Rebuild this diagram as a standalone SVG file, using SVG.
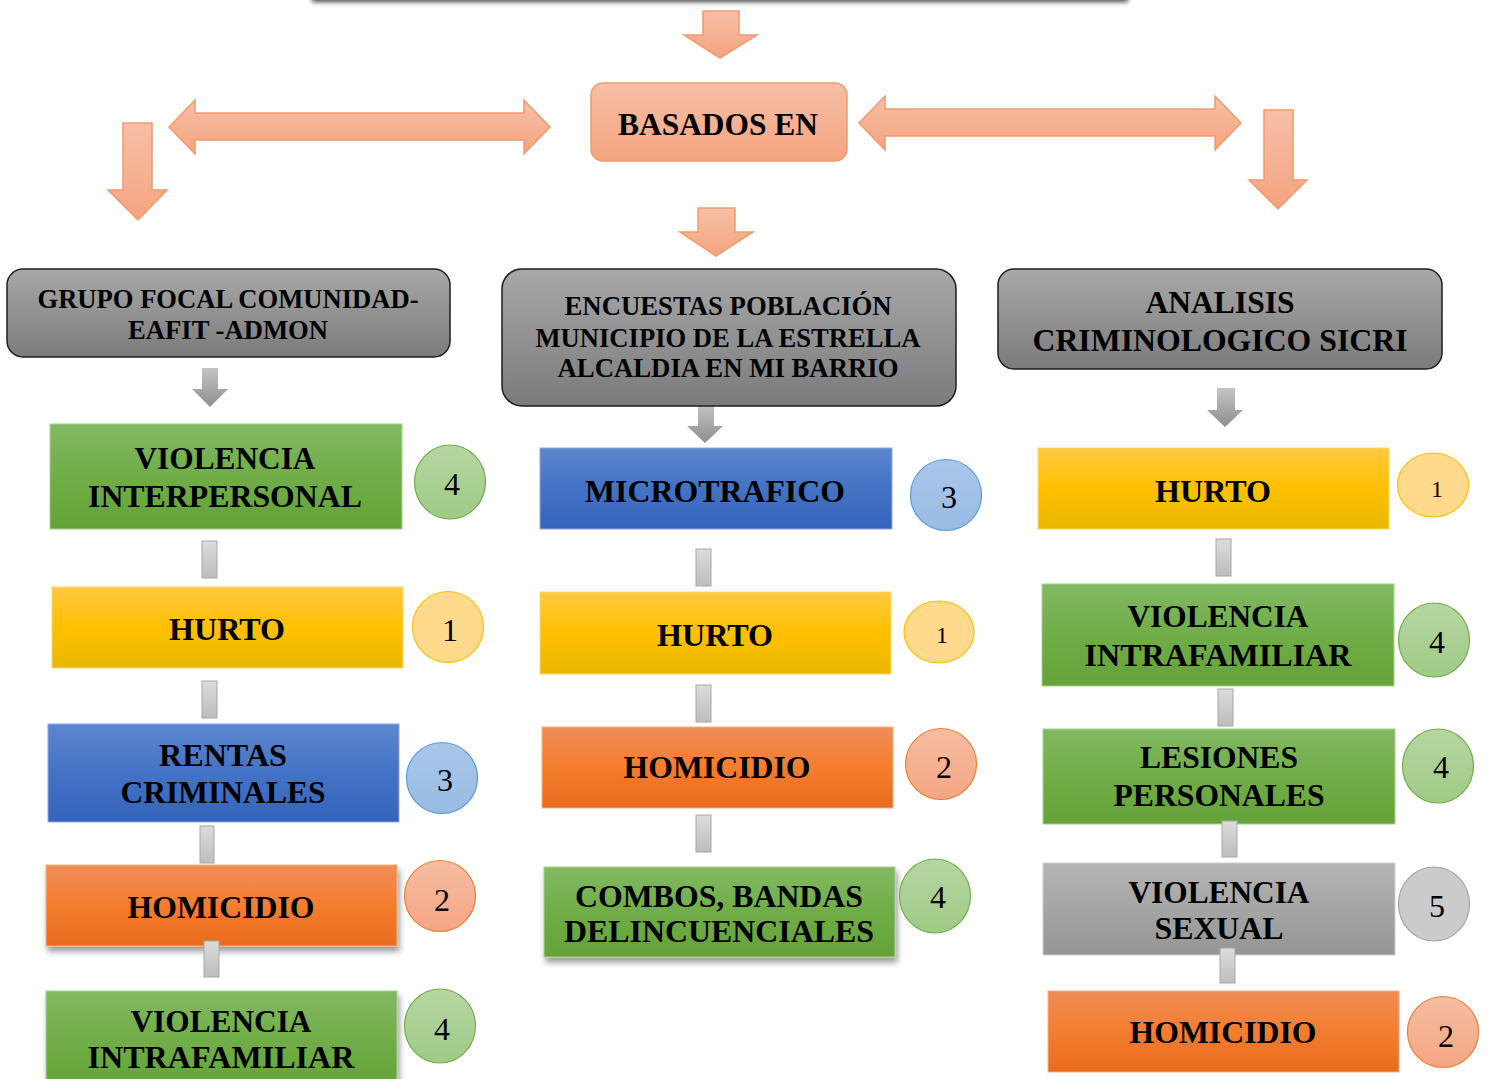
<svg xmlns="http://www.w3.org/2000/svg" width="1491" height="1079" viewBox="0 0 1491 1079">
<style>
.t{font-family:"Liberation Serif","Times New Roman",serif;font-weight:bold;fill:#000;text-anchor:middle;font-size:31.5px}
.h{font-size:26.5px}
.n{font-family:"Liberation Serif","Times New Roman",serif;fill:#000;text-anchor:middle;font-size:32px}
.s{font-size:24px}
.hdr{stroke:#1e1e1e;stroke-width:1.5;fill:url(#gHdr)}
.sal{fill:url(#gSal);stroke:#F19A6C;stroke-width:1.5}
.garr{fill:url(#gArr)}
.bar{fill:url(#gBar);stroke:#A8A8A8;stroke-width:1}
.green{fill:url(#gGreen);stroke:#A9D18E;stroke-width:1}
.yellow{fill:url(#gYellow);stroke:#FFD966;stroke-width:1}
.blue{fill:url(#gBlue);stroke:#8FAADC;stroke-width:1}
.orange{fill:url(#gOrange);stroke:#F4B183;stroke-width:1}
.grey{fill:url(#gGrey);stroke:#D0D0D0;stroke-width:1}
.cg{fill:url(#cGreen);stroke:#70AD47;stroke-width:1.2}
.cy{fill:#FFD98C;stroke:#FFC000;stroke-width:1.2}
.cb{fill:url(#cBlue);stroke:#5B9BD5;stroke-width:1.2}
.co{fill:url(#cOrange);stroke:#ED7D31;stroke-width:1.2}
.cgr{fill:#CBCBCB;stroke:#A5A5A5;stroke-width:1.2}
</style>
<defs>
<linearGradient id="gHdr" x1="0" y1="0" x2="0" y2="1"><stop offset="0" stop-color="#A8A8A8"/><stop offset="1" stop-color="#7B7B7B"/></linearGradient>
<linearGradient id="gSal" x1="0" y1="0" x2="0" y2="1"><stop offset="0" stop-color="#F7C0A8"/><stop offset="1" stop-color="#F4A37F"/></linearGradient>
<linearGradient id="gArr" x1="0" y1="0" x2="0" y2="1"><stop offset="0" stop-color="#C4C4C4"/><stop offset="1" stop-color="#8E8E8E"/></linearGradient>
<linearGradient id="gBar" x1="0" y1="0" x2="0" y2="1"><stop offset="0" stop-color="#DCDCDC"/><stop offset="1" stop-color="#BDBDBD"/></linearGradient>
<linearGradient id="gGreen" x1="0" y1="0" x2="0" y2="1"><stop offset="0" stop-color="#82B963"/><stop offset="0.5" stop-color="#70AD47"/><stop offset="1" stop-color="#64A338"/></linearGradient>
<linearGradient id="gYellow" x1="0" y1="0" x2="0" y2="1"><stop offset="0" stop-color="#FFC943"/><stop offset="0.5" stop-color="#FFC000"/><stop offset="1" stop-color="#E9B800"/></linearGradient>
<linearGradient id="gBlue" x1="0" y1="0" x2="0" y2="1"><stop offset="0" stop-color="#5D86CF"/><stop offset="0.5" stop-color="#4472C4"/><stop offset="1" stop-color="#3464BC"/></linearGradient>
<linearGradient id="gOrange" x1="0" y1="0" x2="0" y2="1"><stop offset="0" stop-color="#F08D58"/><stop offset="0.5" stop-color="#F47D2E"/><stop offset="1" stop-color="#E86B1E"/></linearGradient>
<linearGradient id="gGrey" x1="0" y1="0" x2="0" y2="1"><stop offset="0" stop-color="#B5B5B5"/><stop offset="1" stop-color="#959595"/></linearGradient>
<linearGradient id="cGreen" x1="0" y1="0" x2="0" y2="1"><stop offset="0" stop-color="#B5D7A2"/><stop offset="1" stop-color="#A0CA86"/></linearGradient>
<linearGradient id="cBlue" x1="0" y1="0" x2="0" y2="1"><stop offset="0" stop-color="#A9C6EA"/><stop offset="1" stop-color="#98BCE4"/></linearGradient>
<linearGradient id="cOrange" x1="0" y1="0" x2="0" y2="1"><stop offset="0" stop-color="#F6BDA2"/><stop offset="1" stop-color="#F4A683"/></linearGradient>
<filter id="sh" x="-10%" y="-20%" width="125%" height="150%"><feDropShadow dx="2" dy="5" stdDeviation="3" flood-color="#000" flood-opacity="0.4"/></filter>
<filter id="blur" x="-5%" y="-50%" width="110%" height="200%"><feGaussianBlur stdDeviation="2.5"/></filter>
</defs>

<g id="top-box"><rect x="312" y="-30" width="816" height="32" fill="#4a4a4a" filter="url(#blur)"/></g>

<g id="connectors">
<polygon class="sal" points="703,11 739,11 739,35 757,35 720,58 684,35 703,35"/>
<polygon class="sal" points="169,127 195,100 195,113 524,113 524,100 550,127 524,154 524,140 195,140 195,154"/>
<polygon class="sal" points="859,123 885,96 885,109 1215,109 1215,96 1241,123 1215,150 1215,136 885,136 885,150"/>
<polygon class="sal" points="123,123 152,123 152,190 167,190 138,220 108,190 123,190"/>
<polygon class="sal" points="1264,110 1293,110 1293,180 1307,180 1278,209 1249,180 1264,180"/>
<polygon class="sal" points="698,208 735,208 735,232 753,232 716,256 680,232 698,232"/>
<polygon class="garr" points="202,368 218,368 218,389 228,389 210,407 192,389 202,389"/>
<polygon class="garr" points="698,404 714,404 714,426 723,426 705,443 687,426 698,426"/>
<polygon class="garr" points="1217,388 1235,388 1235,410 1243,410 1225,427 1207,410 1217,410"/>
</g>

<g id="basados-en">
<rect x="591" y="83" width="256" height="78" rx="12" class="sal"/>
<text class="t" x="718" y="135" textLength="200" lengthAdjust="spacingAndGlyphs">BASADOS EN</text>
</g>

<g id="grupo-focal">
<rect x="7" y="269" width="443" height="88" rx="16" class="hdr"/>
<text class="t h" x="228" y="308" textLength="381" lengthAdjust="spacingAndGlyphs">GRUPO FOCAL COMUNIDAD-</text>
<text class="t h" x="228" y="339" textLength="200" lengthAdjust="spacingAndGlyphs">EAFIT -ADMON</text>
</g>
<g id="encuestas">
<rect x="502" y="269" width="454" height="137" rx="20" class="hdr"/>
<text class="t h" x="728" y="315" textLength="327" lengthAdjust="spacingAndGlyphs">ENCUESTAS POBLACIÓN</text>
<text class="t h" x="728" y="347" textLength="385" lengthAdjust="spacingAndGlyphs">MUNICIPIO DE LA ESTRELLA</text>
<text class="t h" x="728" y="377" textLength="341" lengthAdjust="spacingAndGlyphs">ALCALDIA EN MI BARRIO</text>
</g>
<g id="analisis">
<rect x="998" y="269" width="444" height="100" rx="16" class="hdr"/>
<text class="t" x="1220" y="313" textLength="149" lengthAdjust="spacingAndGlyphs">ANALISIS</text>
<text class="t" x="1220" y="351" textLength="375" lengthAdjust="spacingAndGlyphs">CRIMINOLOGICO SICRI</text>
</g>

<!-- left column -->
<g id="l-violencia-interpersonal">
<rect x="50" y="424" width="352" height="105" class="green"/>
<text class="t" x="225" y="469" textLength="181" lengthAdjust="spacingAndGlyphs">VIOLENCIA</text>
<text class="t" x="225" y="507" textLength="274" lengthAdjust="spacingAndGlyphs">INTERPERSONAL</text>
<ellipse cx="450" cy="482" rx="35.5" ry="37" class="cg"/>
<text class="n" x="452" y="495">4</text>
</g>
<g id="l-hurto">
<rect x="52" y="587" width="351" height="81" class="yellow"/>
<text class="t" x="227" y="640" textLength="116" lengthAdjust="spacingAndGlyphs">HURTO</text>
<circle cx="448" cy="627" r="35.5" class="cy"/>
<text class="n" x="450" y="641">1</text>
</g>
<g id="l-rentas">
<rect x="48" y="724" width="351" height="98" class="blue"/>
<text class="t" x="223" y="766" textLength="128" lengthAdjust="spacingAndGlyphs">RENTAS</text>
<text class="t" x="223" y="803" textLength="205" lengthAdjust="spacingAndGlyphs">CRIMINALES</text>
<circle cx="442" cy="778" r="35.5" class="cb"/>
<text class="n" x="445" y="791">3</text>
</g>
<g id="l-homicidio">
<rect x="46" y="865" width="351" height="81" class="orange" filter="url(#sh)"/>
<text class="t" x="221" y="918" textLength="187" lengthAdjust="spacingAndGlyphs">HOMICIDIO</text>
<circle cx="440" cy="896" r="35.5" class="co"/>
<text class="n" x="442" y="911">2</text>
</g>
<g id="l-violencia-intrafamiliar">
<rect x="46" y="991" width="351" height="100" class="green" filter="url(#sh)"/>
<text class="t" x="221" y="1032" textLength="181" lengthAdjust="spacingAndGlyphs">VIOLENCIA</text>
<text class="t" x="221" y="1068" textLength="267" lengthAdjust="spacingAndGlyphs">INTRAFAMILIAR</text>
<ellipse cx="440" cy="1026" rx="35.5" ry="37" class="cg"/>
<text class="n" x="442" y="1040">4</text>
</g>

<!-- middle column -->
<g id="m-microtrafico">
<rect x="540" y="448" width="352" height="81" class="blue"/>
<text class="t" x="715" y="502" textLength="260" lengthAdjust="spacingAndGlyphs">MICROTRAFICO</text>
<circle cx="946" cy="495" r="35.5" class="cb"/>
<text class="n" x="949" y="508">3</text>
</g>
<g id="m-hurto">
<rect x="540" y="592" width="351" height="82" class="yellow"/>
<text class="t" x="715" y="646" textLength="116" lengthAdjust="spacingAndGlyphs">HURTO</text>
<ellipse cx="939" cy="632" rx="35" ry="31" class="cy"/>
<text class="n s" x="942" y="643">1</text>
</g>
<g id="m-homicidio">
<rect x="542" y="727" width="351" height="81" class="orange"/>
<text class="t" x="717" y="778" textLength="187" lengthAdjust="spacingAndGlyphs">HOMICIDIO</text>
<circle cx="941" cy="764" r="35.5" class="co"/>
<text class="n" x="944" y="778">2</text>
</g>
<g id="m-combos">
<rect x="544" y="867" width="351" height="90" class="green" filter="url(#sh)"/>
<text class="t" x="719" y="907" textLength="288" lengthAdjust="spacingAndGlyphs">COMBOS, BANDAS</text>
<text class="t" x="719" y="942" textLength="310" lengthAdjust="spacingAndGlyphs">DELINCUENCIALES</text>
<ellipse cx="935" cy="896" rx="35.5" ry="37" class="cg"/>
<text class="n" x="938" y="908">4</text>
</g>

<!-- right column -->
<g id="r-hurto">
<rect x="1038" y="448" width="351" height="81" class="yellow"/>
<text class="t" x="1213" y="502" textLength="116" lengthAdjust="spacingAndGlyphs">HURTO</text>
<ellipse cx="1433" cy="485" rx="35.5" ry="32" class="cy"/>
<text class="n s" x="1437" y="497">1</text>
</g>
<g id="r-violencia-intrafamiliar">
<rect x="1042" y="584" width="352" height="102" class="green"/>
<text class="t" x="1218" y="627" textLength="181" lengthAdjust="spacingAndGlyphs">VIOLENCIA</text>
<text class="t" x="1218" y="666" textLength="267" lengthAdjust="spacingAndGlyphs">INTRAFAMILIAR</text>
<ellipse cx="1434" cy="640" rx="35.5" ry="37" class="cg"/>
<text class="n" x="1437" y="653">4</text>
</g>
<g id="r-lesiones">
<rect x="1043" y="729" width="352" height="95" class="green"/>
<text class="t" x="1219" y="768" textLength="158" lengthAdjust="spacingAndGlyphs">LESIONES</text>
<text class="t" x="1219" y="806" textLength="211" lengthAdjust="spacingAndGlyphs">PERSONALES</text>
<ellipse cx="1438" cy="766" rx="35.5" ry="37" class="cg"/>
<text class="n" x="1441" y="778">4</text>
</g>
<g id="r-violencia-sexual">
<rect x="1043" y="863" width="352" height="92" class="grey"/>
<text class="t" x="1219" y="903" textLength="181" lengthAdjust="spacingAndGlyphs">VIOLENCIA</text>
<text class="t" x="1219" y="939" textLength="129" lengthAdjust="spacingAndGlyphs">SEXUAL</text>
<ellipse cx="1434" cy="904" rx="35.5" ry="37" class="cgr"/>
<text class="n" x="1437" y="917">5</text>
</g>
<g id="r-homicidio">
<rect x="1048" y="991" width="351" height="81" class="orange"/>
<text class="t" x="1223" y="1043" textLength="187" lengthAdjust="spacingAndGlyphs">HOMICIDIO</text>
<circle cx="1443" cy="1032" r="35.5" class="co"/>
<text class="n" x="1446" y="1047">2</text>
</g>

<g id="link-bars">
<rect class="bar" x="202" y="541" width="15" height="37"/>
<rect class="bar" x="202" y="681" width="15" height="37"/>
<rect class="bar" x="200" y="826" width="14" height="37"/>
<rect class="bar" x="204" y="941" width="15" height="36"/>
<rect class="bar" x="696" y="549" width="15" height="37"/>
<rect class="bar" x="696" y="685" width="15" height="37"/>
<rect class="bar" x="696" y="815" width="15" height="37"/>
<rect class="bar" x="1216" y="539" width="15" height="37"/>
<rect class="bar" x="1218" y="689" width="15" height="37"/>
<rect class="bar" x="1222" y="821" width="15" height="36"/>
<rect class="bar" x="1220" y="948" width="15" height="35"/>
</g>
</svg>
